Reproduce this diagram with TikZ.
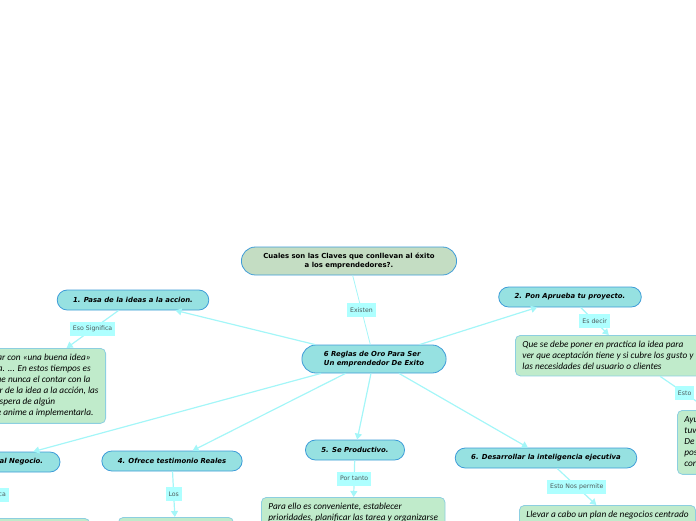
\documentclass[tikz,border=0pt]{standalone}
\usepackage{fontspec}
\usepackage{xcolor}
\usepackage{tikz}
\usetikzlibrary{arrows.meta}
\newfontfamily\topicfont{DejaVu Sans}
\newfontfamily\notefont{Carlito}
\definecolor{topicfill}{HTML}{96E1E1}
\definecolor{topicline}{HTML}{3E9CD8}
\definecolor{qfill}{HTML}{C4DDC3}
\definecolor{notefill}{HTML}{C0EBCB}
\definecolor{noteline}{HTML}{8CCFE0}
\definecolor{tagfill}{HTML}{AEFFFF}
\definecolor{tagtext}{HTML}{4F5B5B}
\definecolor{linkc}{HTML}{A4F6F8}
\begin{document}
\begin{tikzpicture}[
  x=1pt, y=-1pt,
  topic/.style={draw=topicline, fill=topicfill, line width=0.8pt,
                rounded corners=10pt, minimum height=20pt,
                inner xsep=16pt, inner ysep=0pt,
                font=\topicfont\bfseries\itshape\fontsize{6.9}{9}\selectfont},
  rootbox/.style={topic, rounded corners=14pt, minimum height=28pt,
                  inner xsep=22pt},
  note/.style={draw=noteline, fill=notefill, line width=0.8pt,
               rounded corners=5pt, inner xsep=7pt, inner ysep=6pt,
               align=flush left, font=\notefont\itshape\fontsize{9.3}{11}\selectfont},
  tag/.style={fill=tagfill, text=tagtext, inner xsep=3pt, inner ysep=0pt,
              minimum height=14pt, font=\topicfont\fontsize{6.2}{7.5}\selectfont},
  link/.style={draw=linkc, line width=1.2pt, -{Triangle[length=6pt,width=7pt]}},
  plainlink/.style={draw=linkc, line width=0.8pt}
]
\path[use as bounding box] (0,0) rectangle (696,520);
\clip (0,0) rectangle (696,520);

\node[rootbox, fill=qfill, align=center,
      font=\topicfont\bfseries\fontsize{6.9}{9}\selectfont] (pregunta) at (349,261)
  {Cuales son las Claves que conllevan al éxito\\a los emprendedores?.};
\node[rootbox, align=left, minimum width=144pt] (reglas) at (374,359)
  {6 Reglas de Oro Para Ser\\Un emprendedor De Exito};

\node[topic] (paso1) at (133,300) {1. Pasa de la ideas a la accion.};
\node[topic] (paso2) at (570,297) {2. Pon Aprueba tu proyecto.};
\node[topic, minimum width=130pt] (paso3) at (-5,462) {3. Dale Valor al Negocio.};
\node[topic] (paso4) at (172,461) {4. Ofrece testimonio Reales};
\node[topic] (paso5) at (355,450) {5. Se Productivo.};
\node[topic] (paso6) at (546,458) {6. Desarrollar la inteligencia ejecutiva};

\node[note, anchor=north east] (nota1) at (106,348)
  {No basta con contar con «una buena idea»\\
   y bien estructurada. ... En estos tiempos es\\
   más importante que nunca el contar con la\\
   capacidad de pasar de la idea a la acción, las\\
   sin quedarse a la espera de algún\\
   oportunidad que le anime a implementarla.};
\node[note, anchor=north west, text width=215pt] (nota2) at (515,335)
  {Que se debe poner en practica la idea para\\
   ver que aceptación tiene y si cubre los gusto y\\
   las necesidades del usuario o clientes};
\node[note, anchor=north west, text width=144pt] (nota2b) at (677,410)
  {Ayudará a conocer si la idea\\
   tuvo la acogida esperada.\\
   De lo contrario, existe la\\
   posibilidad de corregir y\\
   continuar con el proyecto.};
\node[note, anchor=north east, minimum width=200pt, minimum height=40pt] (nota3) at (90,518) {};
\node[note, anchor=north west, minimum width=115pt, minimum height=40pt] (nota4) at (118,517) {};
\node[note, anchor=north west] (nota5) at (261,497)
  {Para ello es conveniente, establecer\\
   prioridades, planificar las tarea y organizarse};
\node[note, anchor=north west] (nota6) at (519,505)
  {Llevar a cabo un plan de negocios centrado};

\draw[plainlink] (pregunta) -- node[tag]{Existen} (reglas);
\draw[link] (reglas) -- (paso1);
\draw[link] (reglas) -- (paso2);
\draw[link] (reglas) -- (paso3);
\draw[link] (reglas) -- (paso4);
\draw[link] (reglas) -- (paso5);
\draw[link] (reglas) -- (paso6);
\draw[link] (paso1) -- node[tag]{Eso Significa} (nota1);
\draw[link] (paso2) -- node[tag]{Es decir} (nota2);
\draw[link] (nota2) -- node[tag]{Esto} (nota2b);
\draw[link] (paso3) -- node[tag]{Significa} (nota3);
\draw[link] (paso4) -- node[tag]{Los} (nota4);
\draw[link] (paso5) -- node[tag]{Por tanto} (nota5);
\draw[link] (paso6) -- node[tag]{Esto Nos permite} (nota6);
\end{tikzpicture}
\end{document}
